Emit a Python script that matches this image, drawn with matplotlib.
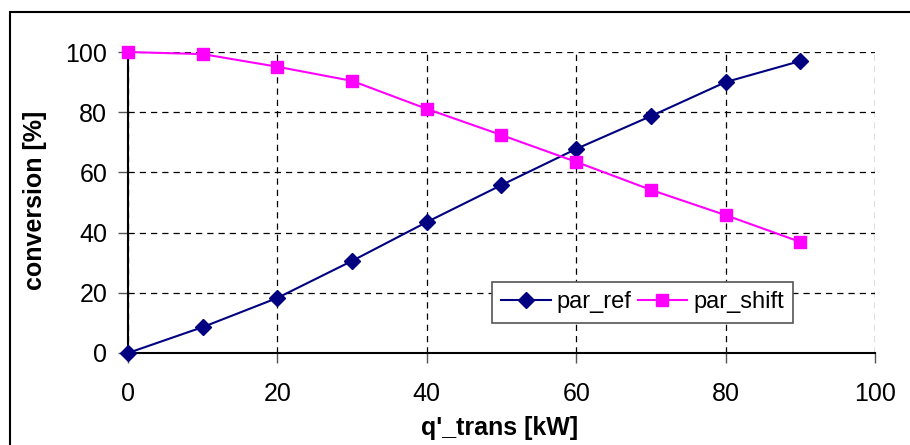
import matplotlib
matplotlib.use("Agg")
import matplotlib.pyplot as plt
from matplotlib.patches import Rectangle

x_vals = [0, 10, 20, 30, 40, 50, 60, 70, 80, 90]
par_ref = [0, 8.6, 18.3, 30.6, 43.5, 55.8, 67.8, 78.7, 90.0, 97.0]
par_shift = [100, 99.3, 95.1, 90.4, 81.1, 72.4, 63.5, 54.2, 45.8, 36.9]
x_ticks = [0, 20, 40, 60, 80, 100]
y_ticks = [0, 20, 40, 60, 80, 100]

plt.rcParams['font.family'] = ['Liberation Sans', 'DejaVu Sans']

W, H = 910, 445
fig = plt.figure(figsize=(W/100, H/100), dpi=100)
ax = fig.add_axes([128/W, 1-353/H, (875-128)/W, (353-52)/H])

# outer frame
fig.patches.append(Rectangle((10/W, -0.1), 1.1, 1 - 12/H + 0.1, transform=fig.transFigure,
                             fill=False, edgecolor='black', linewidth=1.5))

ax.set_xlim(0, 100)
ax.set_ylim(0, 100)
ax.set_xticks(x_ticks)
ax.set_yticks(y_ticks)
ax.grid(True, color='black', linestyle=(0, (5, 4)), linewidth=0.9)
ax.set_axisbelow(True)
for s in ['top', 'right']:
    ax.spines[s].set_visible(False)
for s in ['left', 'bottom']:
    ax.spines[s].set_linewidth(1.5)
    ax.spines[s].set_color('black')

ax.plot(x_vals, par_ref, color='#000080', marker='D', markersize=8.5, linewidth=1.5,
        label='par_ref', clip_on=False, zorder=3)
ax.plot(x_vals, par_shift, color='#FF00FF', marker='s', markersize=8.5, linewidth=1.5,
        label='par_shift', clip_on=False, zorder=3)

ax.tick_params(axis='both', labelsize=18, length=7, width=1, color='#555555', direction='out')
ax.tick_params(axis='x', pad=14)
ax.tick_params(axis='y', pad=8)

fig.text(500/W, 1-428/H, "q'_trans [kW]", fontsize=18, fontweight='bold',
         ha='center', va='center')
fig.text(35/W, 1-200/H, "conversion [%]", fontsize=18, fontweight='bold',
         ha='center', va='center', rotation=90)

leg = ax.legend(loc='upper left', bbox_to_anchor=((492-128)/747, (353-282)/301),
                ncol=2, fontsize=17, frameon=True, fancybox=False, framealpha=1,
                edgecolor='#555555', handlelength=2.1, columnspacing=0.25,
                handletextpad=0.25, borderpad=0.4, borderaxespad=0)
leg.get_frame().set_linewidth(1.2)

fig.savefig('out.png', dpi=100)
